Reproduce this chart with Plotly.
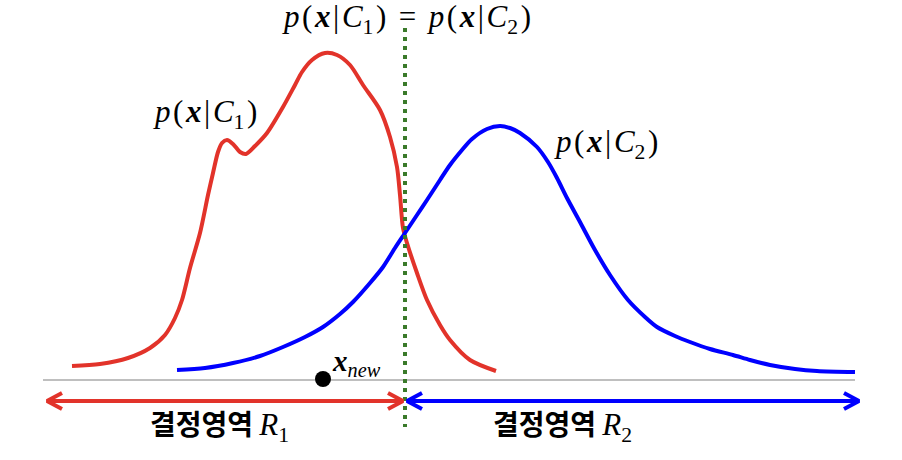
import plotly.graph_objects as go

# ---- data (x position, density height above the baseline) ----
c1_x = [72, 100, 128, 150, 165, 175, 182, 190, 200, 208, 213, 218, 222, 227, 233, 240, 246, 255, 267,
        283, 295, 302, 312, 325, 337, 350, 363, 380, 390, 397, 400, 403, 407, 417, 427, 440, 450, 470, 496]
c1_y = [14, 16, 22, 32, 45, 62, 80, 112, 147, 185, 207, 228, 237, 240, 236, 228, 226, 234, 247,
        273, 295, 308, 320, 327, 325, 315, 295, 270, 243, 213, 185, 152, 137, 107, 80, 55, 40, 20, 9]

c2_x = [177, 205, 233, 260, 283, 305, 323, 340, 353, 370, 383, 395, 405, 417, 427, 440, 450, 462, 472,
        487, 500, 510, 520, 537, 548, 557, 567, 580, 595, 610, 628, 645, 657, 675, 690, 710, 733, 750,
        770, 795, 817, 855]
c2_y = [10, 12, 17, 24, 33, 43, 53, 66, 78, 97, 113, 132, 147, 165, 180, 200, 215, 230, 241,
        251, 254, 252, 247, 233, 218, 202, 182, 158, 130, 105, 80, 63, 53, 44, 38, 31, 25, 20,
        15, 11, 9, 8]

boundary_x = 405          # p(x|C1) = p(x|C2)
boundary_top = 352
boundary_bottom = -47
axis_x = [43, 855]
region1 = [47, 403]
region2 = [407, 859]
region_y = -21
x_new = [323]
x_new_y = [1]

RED = "#e2332a"
BLUE = "#0000ff"
GREEN = "#3a7a2a"
SERIF = "Liberation Serif"

fig = go.Figure()

# baseline
fig.add_trace(go.Scatter(x=axis_x, y=[0, 0], mode="lines",
                         line=dict(color="#808080", width=1.2), hoverinfo="skip"))

# curves
fig.add_trace(go.Scatter(x=c1_x, y=c1_y, mode="lines",
                         line=dict(color=RED, width=4, shape="spline", smoothing=0.8)))
fig.add_trace(go.Scatter(x=c2_x, y=c2_y, mode="lines",
                         line=dict(color=BLUE, width=4, shape="spline", smoothing=0.8)))

# decision boundary
fig.add_trace(go.Scatter(x=[boundary_x, boundary_x], y=[boundary_top, boundary_bottom], mode="lines",
                         line=dict(color=GREEN, width=4, dash="4px,5px")))


def double_arrow(x0, x1, y, color, L=15, h=8):
    xs = [x0, x1, None,
          x0 + L, x0, x0 + L, None,
          x1 - L, x1, x1 - L]
    ys = [y, y, None,
          y + h, y, y - h, None,
          y + h, y, y - h]
    return go.Scatter(x=xs, y=ys, mode="lines",
                      line=dict(color=color, width=4), hoverinfo="skip")


fig.add_trace(double_arrow(region1[0], region1[1], region_y, RED))
fig.add_trace(double_arrow(region2[0], region2[1], region_y, BLUE))

# x_new point
fig.add_trace(go.Scatter(x=x_new, y=x_new_y, mode="markers",
                         marker=dict(color="black", size=16)))

TH = "\u2009"   # thin space
HS = "\u200a"   # hair space
pc1 = f"<i>p</i>{HS}({HS}<b><i>x</i></b>{HS}|{HS}<i>C</i><sub>1</sub>{HS})"
pc2 = f"<i>p</i>{HS}({HS}<b><i>x</i></b>{HS}|{HS}<i>C</i><sub>2</sub>{HS})"

ann = [
    dict(x=406, y=361, text=pc1 + TH + TH + "=" + TH + TH + pc2,
         font=dict(family=SERIF, size=31, color="black")),
    dict(x=205, y=266, text=pc1, font=dict(family=SERIF, size=31, color="black")),
    dict(x=606, y=236, text=pc2, font=dict(family=SERIF, size=31, color="black")),
    dict(x=330, y=17, xanchor="left", text="<b><i>x</i></b><sub><i>new</i></sub>",
         font=dict(family=SERIF, size=29, color="black")),
    dict(x=219, y=-45,
         text="<b>결정영역</b> <span style='font-family:Liberation Serif;font-size:31px'><i>R</i><sub>1</sub></span>",
         font=dict(family="Noto Sans CJK KR", size=28, color="black")),
    dict(x=562, y=-45,
         text="<b>결정영역</b> <span style='font-family:Liberation Serif;font-size:31px'><i>R</i><sub>2</sub></span>",
         font=dict(family="Noto Sans CJK KR", size=28, color="black")),
]
for a in ann:
    a.setdefault("xanchor", "center")
    a.setdefault("yanchor", "middle")
    a.update(showarrow=False, xref="x", yref="y")
fig.update_layout(annotations=ann)

fig.update_layout(
    width=902, height=460,
    margin=dict(l=0, r=0, t=0, b=0),
    paper_bgcolor="white", plot_bgcolor="white",
    showlegend=False,
    xaxis=dict(range=[0, 902], visible=False, fixedrange=True),
    yaxis=dict(range=[-80, 380], visible=False, fixedrange=True),
)

# remove the browser's default 8px body margin so the figure fills the window
fig.write_html("out.html",
               config={"displayModeBar": False},
               post_script="document.body.style.margin='0px';document.body.style.overflow='hidden';")
